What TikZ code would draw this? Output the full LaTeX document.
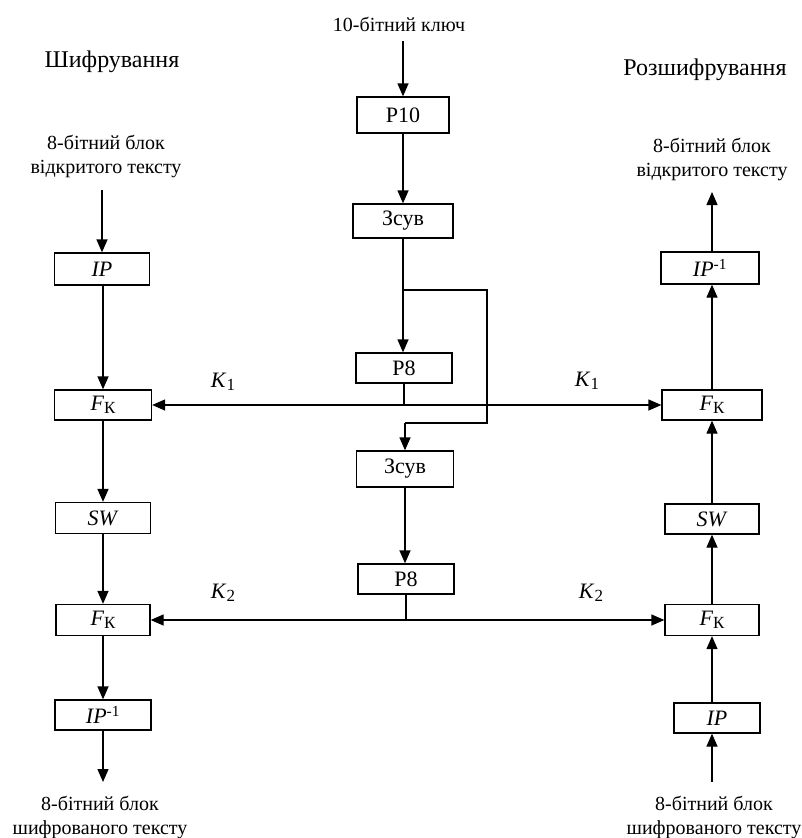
\documentclass[tikz,border=0pt]{standalone}
\usepackage{fontspec}
\setmainfont{Liberation Serif}
\usetikzlibrary{arrows.meta}
\newcommand\FKsub{\textit{F}\raisebox{-0.35ex}{\fontsize{17}{17}\selectfont К}}
\newcommand\IPinv{\textit{IP}\textsuperscript{-1}}
\newcommand\Kn[1]{\textit{K}\raisebox{-0.3ex}{\fontsize{17}{17}\selectfont #1}}
\begin{document}
\begin{tikzpicture}[x=1pt,y=-1pt,
  blk/.style={draw,line width=1.3pt,minimum width=96pt,minimum height=31pt,inner sep=0pt,font=\fontsize{22}{24}\selectfont},
  lbl/.style={font=\fontsize{20}{24}\selectfont,align=center,inner sep=0pt},
  ttl/.style={font=\fontsize{24}{28}\selectfont,inner sep=0pt},
  klbl/.style={font=\fontsize{22}{24}\selectfont,inner sep=0pt},
  conn/.style={line width=1.3pt},
  arr/.style={conn,-{Triangle[length=13pt,width=11pt]}},
]
\useasboundingbox (0,0) rectangle (802,838);

% titles
\node[ttl] (tEnc) at (112,62) {Шифрування};
\node[ttl] (tDec) at (705,70) {Розшифрування};
\node[lbl] (key) at (399,24) {10-бітний ключ};

% centre column
\node[blk,minimum width=92pt,minimum height=36pt] (p10) at (403,115) {P10};
\node[blk,minimum width=100pt,minimum height=34pt] (zs1) at (403,221) {Зсув};
\node[blk,minimum height=30pt] (p8a) at (404,368) {P8};
\node[blk,minimum width=97pt,minimum height=36pt] (zs2) at (405,469) {Зсув};
\node[blk,minimum height=30pt] (p8b) at (406,579) {P8};

% left column
\node[blk,minimum width=95pt,minimum height=32pt] (ipL) at (102,269) {\textit{IP}};
\node[blk,minimum width=97pt,minimum height=30pt] (fk1L) at (103,405) {\FKsub};
\node[blk,minimum width=95pt] (swL) at (103,518) {\textit{SW}};
\node[blk,minimum width=94pt] (fk2L) at (103,620) {\FKsub};
\node[blk,minimum height=30pt] (ipiL) at (103,715) {\IPinv};

% right column
\node[blk,minimum width=98pt,minimum height=32pt] (ipiR) at (710,268) {\IPinv};
\node[blk,minimum width=100pt,minimum height=30pt] (fk1R) at (712,405) {\FKsub};
\node[blk,minimum width=94pt,minimum height=30pt] (swR) at (712,519) {\textit{SW}};
\node[blk,minimum width=94pt] (fk2R) at (712,620) {\FKsub};
\node[blk,minimum width=86pt,minimum height=30pt] (ipR) at (717,718) {\textit{IP}};

% in/out texts
\node[lbl] (ptL) at (106,156) {8-бітний блок\\відкритого тексту};
\node[lbl] (ptR) at (712,159) {8-бітний блок\\відкритого тексту};
\node[lbl] (ctL) at (100,817) {8-бітний блок\\шифрованого тексту};
\node[lbl] (ctR) at (714,817) {8-бітний блок\\шифрованого тексту};

\coordinate (inL) at (102,190);
\coordinate (outL) at (103,782);
\coordinate (outR) at (712,192);
\coordinate (inR) at (712,782);
\coordinate (br1) at (487,290);
\coordinate (br2) at (487,423);

% key labels
\node[klbl] (k1a) at (223,382) {\Kn{1}};
\node[klbl] (k1b) at (587,381) {\Kn{1}};
\node[klbl] (k2a) at (223,593) {\Kn{2}};
\node[klbl] (k2b) at (591,593) {\Kn{2}};

% centre connectors
\draw[arr] ([yshift=-10pt]key.south -| p10.north) -- (p10.north);
\draw[arr] (p10.south) -- (p10.south |- zs1.north);
\draw[arr] (zs1.south) -- (zs1.south |- p8a.north);
\draw[conn] (zs1.south |- br1) -- (br1) -- (br2) -- (br2 -| zs2.north);
\draw[arr] (br2 -| zs2.north) -- (zs2.north);
\draw[arr] (zs2.south) -- (zs2.south |- p8b.north);
\draw[conn] (p8a.south) -- (p8a.south |- fk1L.east);
\draw[arr] (p8a.south |- fk1L.east) -- (fk1L.east);
\draw[arr] (p8a.south |- fk1R.west) -- (fk1R.west);
\draw[conn] (p8b.south) -- (p8b.south |- fk2L.east);
\draw[arr] (p8b.south |- fk2L.east) -- (fk2L.east);
\draw[arr] (p8b.south |- fk2R.west) -- (fk2R.west);

% left connectors
\draw[arr] (inL) -- (inL |- ipL.north);
\draw[arr] (fk1L.north |- ipL.south) -- (fk1L.north);
\draw[arr] (fk1L.south) -- (swL.north);
\draw[arr] (swL.south) -- (fk2L.north);
\draw[arr] (fk2L.south) -- (ipiL.north);
\draw[arr] (ipiL.south) -- (outL);

% right connectors
\draw[arr] (inR) -- (inR |- ipR.south);
\draw[arr] (inR |- ipR.north) -- (fk2R.south);
\draw[arr] (fk2R.north) -- (swR.south);
\draw[arr] (swR.north) -- (fk1R.south);
\draw[arr] (fk1R.north) -- (fk1R.north |- ipiR.south);
\draw[arr] (fk1R.north |- ipiR.north) -- (outR);
\end{tikzpicture}
\end{document}
